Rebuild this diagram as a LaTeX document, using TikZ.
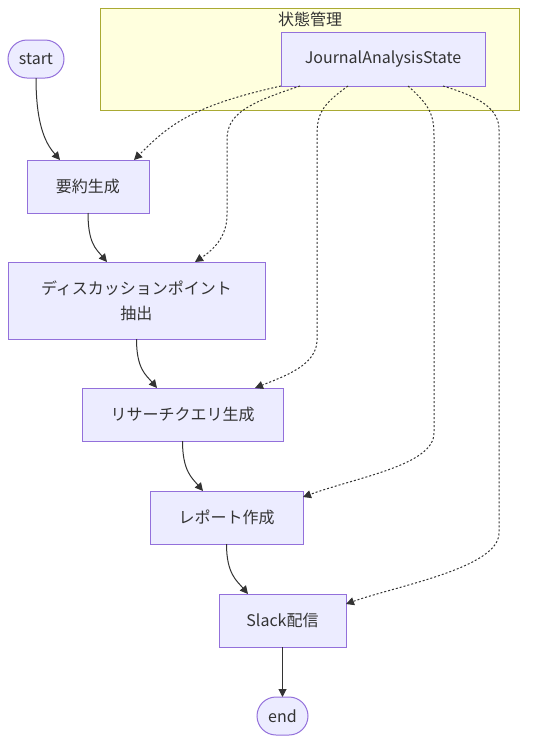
\documentclass[tikz,border=0pt]{standalone}
\usepackage{fontspec}
\setmainfont{Noto Sans CJK JP}
\usetikzlibrary{arrows.meta,calc}
\definecolor{nodefill}{HTML}{ECECFF}
\definecolor{nodeline}{HTML}{9370DB}
\definecolor{groupfill}{HTML}{FFFFDE}
\definecolor{groupline}{HTML}{AAAA33}
\definecolor{ink}{HTML}{333333}

\begin{document}
\begin{tikzpicture}[x=1pt, y=-1pt, font=\fontsize{16}{25}\selectfont, every node/.style={text=ink, inner sep=0pt, outer sep=0pt},
	box/.style={draw=nodeline, fill=nodefill, line width=1pt, align=center},
	pill/.style={box, rounded corners=19pt, minimum height=38pt},
	flow/.style={draw=ink, line width=1pt, -{Triangle[length=8pt, width=8pt]}},
	feed/.style={flow, dash pattern=on 2pt off 2pt}]
	\useasboundingbox (0,0) rectangle (535,753);
	
	% Gruppe: 状態管理
	\node[draw=groupline, fill=groupfill, line width=1pt, minimum width=419pt, minimum height=102pt] (group) at (309.5,59) {};
	\node (grouptitle) at (310,19) {状態管理};
	\node[box, minimum width=204pt, minimum height=54pt] (state) at (383,59) {JournalAnalysisState};
	
	% Ablauf
	\node[pill, minimum width=56pt] (start) at (36,59) {start};
	\node[box, minimum width=122pt, minimum height=53pt] (summary) at (88,186.5) {要約生成};
	\node[box, minimum width=257pt, minimum height=77pt] (discuss) at (136.5,300.5) {ディスカッションポイント\\抽出};
	\node[box, minimum width=201pt, minimum height=53pt] (query) at (182.5,414.5) {リサーチクエリ生成};
	\node[box, minimum width=153pt, minimum height=53pt] (report) at (226.5,517.5) {レポート作成};
	\node[box, minimum width=127pt, minimum height=53pt] (slack) at (282.5,620.5) {Slack配信};
	\node[pill, minimum width=51pt] (stop) at (282.5,716) {end};
	
	% Hauptpfeile
	\draw[flow] (start.south) .. controls +(0,52) and +(-12,-14) .. ($(summary.north west)+(33,0)$);
	\draw[flow] (summary.south) .. controls +(0,30) and +(-11,-13) .. ($(discuss.north west)+(99,0)$);
	\draw[flow] (discuss.south) .. controls +(0,30) and +(-11,-13) .. ($(query.north west)+(75,0)$);
	\draw[flow] (query.south) .. controls +(0,30) and +(-11,-13) .. ($(report.north west)+(53,0)$);
	\draw[flow] (report.south) .. controls +(0,30) and +(-11,-13) .. ($(slack.north west)+(29,0)$);
	\draw[flow] (slack) -- (stop);
	
	% Zustand -> Schritte
	\draw[feed] (state.south west) .. controls +(-90,20) and +(35,-35) .. ($(summary.north west)+(107,0)$);
	\draw[feed] ($(state.south west)+(19,0)$) .. controls +(-55,18) and +(0,-25) .. (227,140) -- (227,215) .. controls +(0,22) and +(18,-12) .. ($(discuss.north west)+(187,0)$);
	\draw[feed] ($(state.south west)+(67,0)$) .. controls +(-25,18) and +(0,-22) .. (317,135) -- (317,340) .. controls +(0,25) and +(30,-12) .. ($(query.north west)+(173,0)$);
	\draw[feed] ($(state.south west)+(127,0)$) .. controls +(20,18) and +(0,-22) .. (434,135) -- (434,433) .. controls +(0,32) and +(55,-20) .. ($(report.north east)+(0,6)$);
	\draw[feed] ($(state.south west)+(162,0)$) .. controls +(40,12) and +(0,-20) .. (499,130) -- (499,533) .. controls +(0,35) and +(50,-18) .. ($(slack.north east)+(0,10)$);
\end{tikzpicture}
\end{document}
